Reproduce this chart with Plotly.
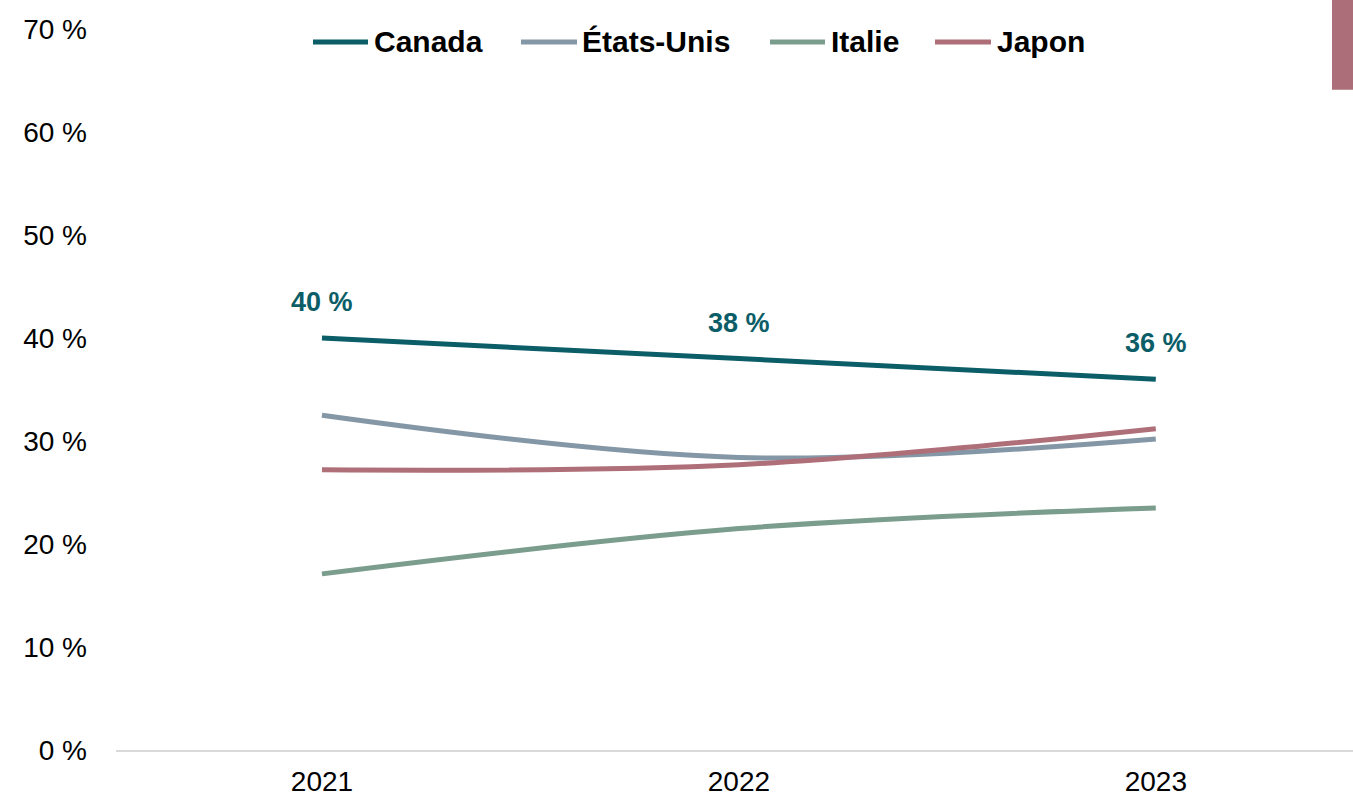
import plotly.graph_objects as go

# Categories and series values (%)
years = ["2021", "2022", "2023"]
canada = [40, 38, 36]
etats_unis = [32.5, 28.4, 30.2]
italie = [17.1, 21.5, 23.5]
japon = [27.2, 27.7, 31.2]

series_names = ["Canada", "États-Unis", "Italie", "Japon"]
series_values = [canada, etats_unis, italie, japon]
series_colors = ["#0b5d67", "#8497a6", "#7b9d8e", "#af6f79"]

y_ticks = [0, 10, 20, 30, 40, 50, 60, 70]
y_tick_text = [f"{t}\u00a0%" for t in y_ticks]

W, H = 1353, 797
M_L, M_R, M_T, M_B = 116, 0, 29, 45
FONT = "Arial, Liberation Sans, sans-serif"


def px_x(px):
    return (px - M_L) / (W - M_L - M_R)


def px_y(py):
    return (H - M_B - py) / (H - M_T - M_B)


fig = go.Figure()

# Smoothed lines, Canada drawn last so it sits on top
draw_order = [1, 2, 3, 0]
for i in draw_order:
    fig.add_trace(go.Scatter(
        x=years, y=series_values[i], name=series_names[i],
        mode="lines",
        line=dict(color=series_colors[i], width=5, shape="spline", smoothing=1),
        showlegend=False, cliponaxis=False, hoverinfo="skip",
    ))

annotations = []

# Value labels above the Canada line (x given as category index)
for idx, v in enumerate(canada):
    annotations.append(dict(
        x=idx, y=v, xref="x", yref="y", text=f"<b>{v:.0f}\u00a0%</b>",
        showarrow=False, yshift=36,
        font=dict(family=FONT, size=27, color=series_colors[0]),
    ))

# Custom legend along the top
legend_items = [
    (313, 368, 372),
    (521, 577, 580),
    (770, 825, 829),
    (935, 991, 995),
]
shapes = []
legend_y = 42
for (x0, x1, tx), name, color in zip(legend_items, series_names, series_colors):
    shapes.append(dict(
        type="line", xref="paper", yref="paper",
        x0=px_x(x0), x1=px_x(x1), y0=px_y(legend_y), y1=px_y(legend_y),
        line=dict(color=color, width=5),
    ))
    annotations.append(dict(
        x=px_x(tx), y=px_y(legend_y), xref="paper", yref="paper",
        xanchor="left", yanchor="middle", showarrow=False,
        text=f"<b>{name}</b>",
        font=dict(family=FONT, size=30, color="#000000"),
    ))

# Accent block in the top-right corner
shapes.append(dict(
    type="rect", xref="paper", yref="paper",
    x0=px_x(1332), x1=px_x(1353), y0=px_y(90), y1=px_y(0),
    fillcolor="#ac6e78", line=dict(width=0), layer="above",
))

fig.update_layout(
    width=W, height=H,
    margin=dict(l=M_L, r=M_R, t=M_T, b=M_B, pad=0),
    paper_bgcolor="white", plot_bgcolor="white",
    font=dict(family=FONT, color="#000000"),
    showlegend=False,
    shapes=shapes,
    annotations=annotations,
    xaxis=dict(
        type="category", range=[-0.494, 2.473],
        showgrid=False, zeroline=False,
        showline=True, linecolor="#d9d9d9", linewidth=2,
        ticks="", tickfont=dict(family=FONT, size=28, color="#000000"),
        ticklabelstandoff=5,
    ),
    yaxis=dict(
        range=[0, 70], tickvals=y_ticks, ticktext=y_tick_text,
        showgrid=False, zeroline=False, showline=False,
        ticks="", tickfont=dict(family=FONT, size=28, color="#000000"),
        ticklabelstandoff=28,
    ),
)

fig.write_html("out.html")
